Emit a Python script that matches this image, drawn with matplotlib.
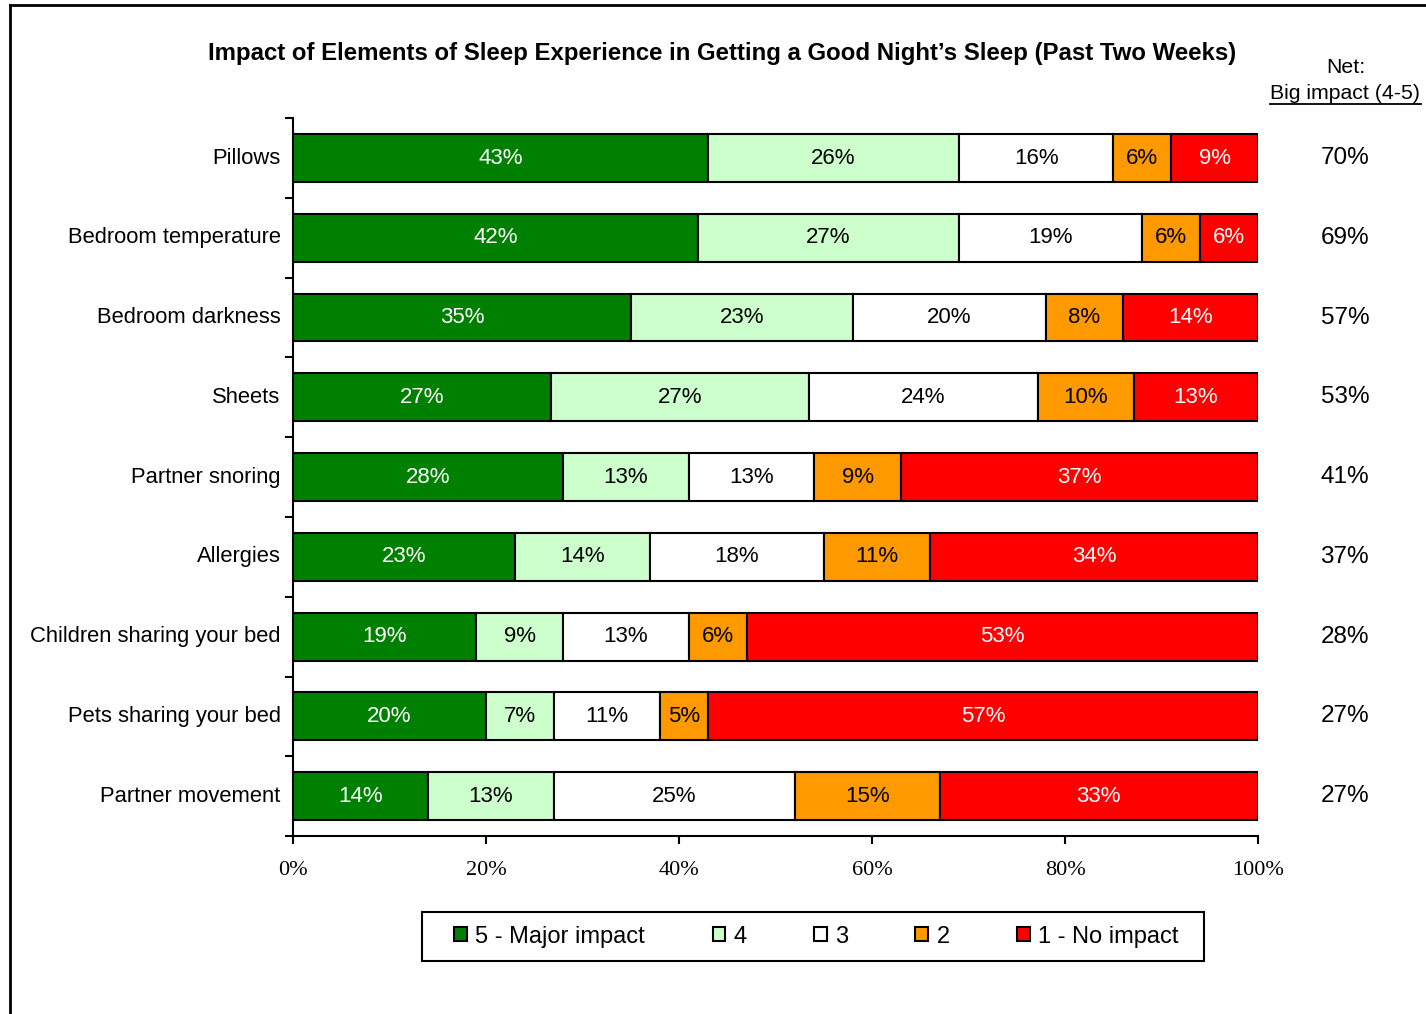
import matplotlib.pyplot as plt
import numpy as np

categories = ["Pillows", "Bedroom temperature", "Bedroom darkness", "Sheets",
              "Partner snoring", "Allergies", "Children sharing your bed",
              "Pets sharing your bed", "Partner movement"]

major = [43, 42, 35, 27, 28, 23, 19, 20, 14]
four = [26, 27, 23, 27, 13, 14, 9, 7, 13]
three = [16, 19, 20, 24, 13, 18, 13, 11, 25]
two = [6, 6, 8, 10, 9, 11, 6, 5, 15]
none = [9, 6, 14, 13, 37, 34, 53, 57, 33]

net_big = [70, 69, 57, 53, 41, 37, 28, 27, 27]

series_names = ["5 - Major impact", "4", "3", "2", "1 - No impact"]
colors = ["#008000", "#CCFFCC", "#FFFFFF", "#FF9900", "#FF0000"]
text_colors = ["white", "black", "black", "black", "white"]

plt.rcParams['font.family'] = ['Liberation Sans', 'DejaVu Sans']

fig = plt.figure(figsize=(14.26, 10.14), dpi=100)
ax = fig.add_axes([0.2055, 0.1755, 0.6767, 0.708])

data = np.array([major, four, three, two, none], dtype=float)
shares = data / data.sum(axis=0) * 100
y = np.arange(len(categories))

left = np.zeros(len(categories))
for i in range(len(series_names)):
    ax.barh(y, shares[i], left=left, height=0.6, color=colors[i],
            edgecolor="black", linewidth=1.5, label=series_names[i], zorder=2)
    for j in range(len(categories)):
        ax.text(left[j] + shares[i][j] / 2, y[j], f"{int(data[i][j])}%",
                ha="center", va="center", fontsize=16, color=text_colors[i])
    left += shares[i]

ax.set_xlim(0, 100)
ax.set_ylim(len(categories) - 0.5, -0.5)
ax.set_xticks(np.arange(0, 101, 20))
ax.set_xticklabels([f"{v}%" for v in range(0, 101, 20)],
                   fontfamily="Liberation Serif", fontsize=16)
ax.set_yticks(np.arange(-0.5, len(categories), 1))
ax.set_yticklabels([])
ax.set_yticks(y - 0.03, minor=True)
ax.set_yticklabels(categories, minor=True, fontsize=15.8)
ax.tick_params(axis="y", which="minor", length=0, pad=9)
ax.tick_params(axis="y", which="major", length=6, width=1.5, direction="out")
ax.tick_params(axis="x", length=6, width=1.5, direction="out", pad=12)
for s in ["top", "right"]:
    ax.spines[s].set_visible(False)
for s in ["left", "bottom"]:
    ax.spines[s].set_linewidth(1.5)

# net column
for j in range(len(categories)):
    ax.text(1.09, y[j], f"{net_big[j]}%", transform=ax.get_yaxis_transform(),
            ha="center", va="center", fontsize=17.5)
fig.text(0.9435, 0.933, "Net:", ha="center", va="center", fontsize=15.3)
fig.text(0.9435, 0.908, "Big impact (4-5)", ha="center", va="center", fontsize=15.3)
fig.add_artist(plt.Line2D([0.8906, 0.9965], [0.8975, 0.8975], color="black", lw=1.3))

fig.text(0.5067, 0.947, "Impact of Elements of Sleep Experience in Getting a Good Night\u2019s Sleep (Past Two Weeks)",
         ha="center", va="center", fontsize=17.3, fontweight="bold")

leg = fig.legend(loc="center", bbox_to_anchor=(0.5725, 0.0764), ncol=5,
                 frameon=False, prop={"size": 17},
                 handlelength=0.55, handleheight=0.55, handletextpad=0.34,
                 columnspacing=2.85, borderpad=0.45, borderaxespad=0)
# legend box drawn separately for wider side padding
fig.add_artist(plt.Rectangle((0.2959, 0.0523), 0.5484, 0.0483, fill=False,
                             edgecolor="black", lw=1.5, transform=fig.transFigure))

# outer frame (top and left only visible)
fig.add_artist(plt.Line2D([0.0068, 1.0], [0.9955, 0.9955], color="black", lw=2))
fig.add_artist(plt.Line2D([0.0068, 0.0068], [0.0, 0.9955], color="black", lw=2))

fig.savefig("out.png", dpi=100)
